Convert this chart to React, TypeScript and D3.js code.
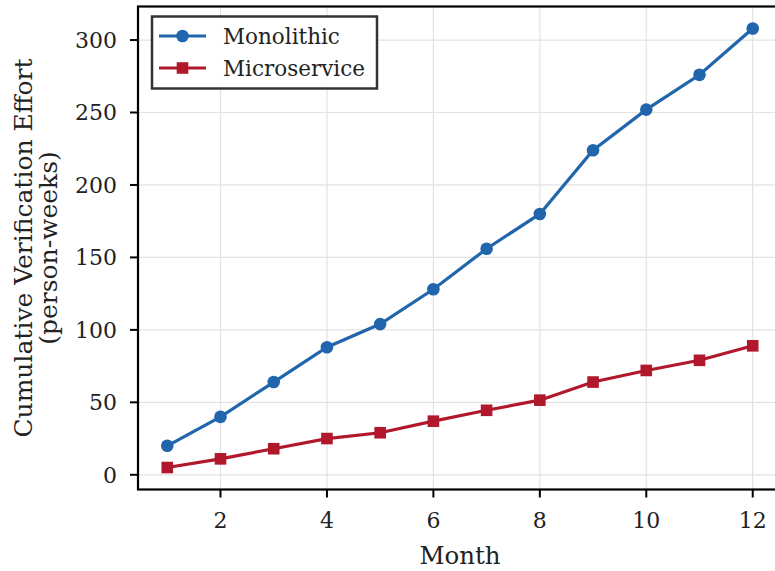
import React from "react";
import * as d3 from "d3";

const months = [1, 2, 3, 4, 5, 6, 7, 8, 9, 10, 11, 12];
const monolithic = [20, 40, 64, 88, 104, 128, 156, 180, 224, 252, 276, 308];
const microservice = [5, 11, 18, 25, 29, 37, 44.5, 51.5, 64, 72, 79, 89];
const xTicks = [2, 4, 6, 8, 10, 12];
const yTicks = [0, 50, 100, 150, 200, 250, 300];

const W = 775;
const H = 571;
const FONT = "'DejaVu Serif', serif";
const BLUE = "#2166ac";
const RED = "#b2182b";

export default function App() {
  const left = 138, right = 782, top = 6.5, bottom = 489.5;
  const x = d3.scaleLinear().domain([0.45, 12.55]).range([left, right]);
  const y = d3.scaleLinear().domain([-10.15, 323.15]).range([bottom, top]);
  const line = d3.line<number>().x((_, i) => x(months[i])).y((d) => y(d));

  return (
    <svg width={W} height={H} style={{ position: "absolute", left: 0, top: 0, background: "#fff" }}>
      <rect x={0} y={0} width={W} height={H} fill="#fff" />
      {/* grid */}
      {xTicks.map((t) => (
        <line key={"gx" + t} x1={x(t)} x2={x(t)} y1={top} y2={bottom} stroke="#e3e3e3" strokeWidth={1.2} />
      ))}
      {yTicks.map((t) => (
        <line key={"gy" + t} x1={left} x2={right} y1={y(t)} y2={y(t)} stroke="#e3e3e3" strokeWidth={1.2} />
      ))}
      {/* series */}
      <path d={line(monolithic) || ""} fill="none" stroke={BLUE} strokeWidth={3.2} />
      {monolithic.map((v, i) => (
        <circle key={"m" + i} cx={x(months[i])} cy={y(v)} r={6.3} fill={BLUE} />
      ))}
      <path d={line(microservice) || ""} fill="none" stroke={RED} strokeWidth={3.2} />
      {microservice.map((v, i) => (
        <rect key={"s" + i} x={x(months[i]) - 5.8} y={y(v) - 5.8} width={11.6} height={11.6} fill={RED} />
      ))}
      {/* frame */}
      <rect x={left} y={top} width={right - left} height={bottom - top} fill="none" stroke="#000" strokeWidth={2.2} />
      {/* x ticks */}
      {xTicks.map((t) => (
        <g key={"xt" + t}>
          <line x1={x(t)} x2={x(t)} y1={bottom} y2={bottom + 8} stroke="#000" strokeWidth={2} />
          <text x={x(t)} y={528} textAnchor="middle" fontFamily={FONT} fontSize={22} fill="#222">
            {t}
          </text>
        </g>
      ))}
      {yTicks.map((t) => (
        <g key={"yt" + t}>
          <line x1={left - 8} x2={left} y1={y(t)} y2={y(t)} stroke="#000" strokeWidth={2} />
          <text x={117} y={y(t)} dy="0.36em" textAnchor="end" fontFamily={FONT} fontSize={22} fill="#222">
            {t}
          </text>
        </g>
      ))}
      {/* axis labels */}
      <text x={(left + right) / 2} y={564} textAnchor="middle" fontFamily={FONT} fontSize={24.5} fill="#222">
        Month
      </text>
      <text
        transform={`translate(32, ${(top + bottom) / 2}) rotate(-90)`}
        textAnchor="middle"
        fontFamily={FONT}
        fontSize={25}
        fill="#222"
      >
        Cumulative Verification Effort
      </text>
      <text
        transform={`translate(57, ${(top + bottom) / 2}) rotate(-90)`}
        textAnchor="middle"
        fontFamily={FONT}
        fontSize={25}
        fill="#222"
      >
        (person-weeks)
      </text>
      {/* legend */}
      <rect x={152} y={16.5} width={225} height={72} fill="#fff" fillOpacity={0.9} stroke="#333" strokeWidth={2.5} />
      <line x1={159} x2={206} y1={36} y2={36} stroke={BLUE} strokeWidth={3.2} />
      <circle cx={182.5} cy={36} r={6.3} fill={BLUE} />
      <text x={223} y={36} dy="0.36em" fontFamily={FONT} fontSize={21.5} fill="#222">
        Monolithic
      </text>
      <line x1={159} x2={206} y1={68} y2={68} stroke={RED} strokeWidth={3.2} />
      <rect x={176.7} y={62.2} width={11.6} height={11.6} fill={RED} />
      <text x={223} y={68} dy="0.36em" fontFamily={FONT} fontSize={21.5} fill="#222">
        Microservice
      </text>
    </svg>
  );
}
